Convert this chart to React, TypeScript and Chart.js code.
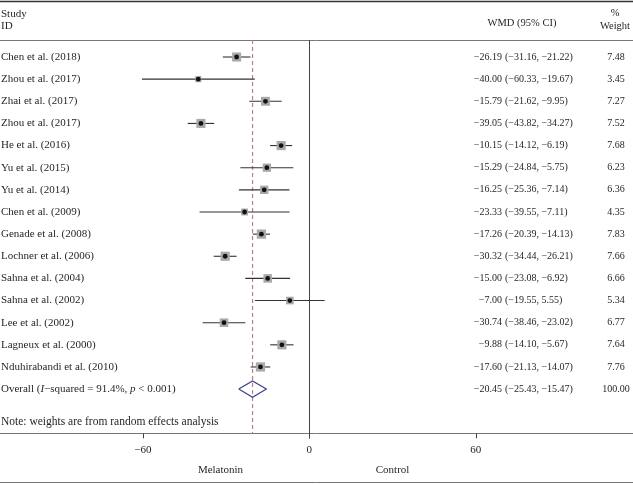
import React, { useEffect, useRef } from "react";
import { Chart, registerables } from "chart.js";

Chart.register(...registerables);

const studies = [
  "Chen et al. (2018)",
  "Zhou et al. (2017)",
  "Zhai et al. (2017)",
  "Zhou et al. (2017)",
  "He et al. (2016)",
  "Yu et al. (2015)",
  "Yu et al. (2014)",
  "Chen et al. (2009)",
  "Genade et al. (2008)",
  "Lochner et al. (2006)",
  "Sahna et al. (2004)",
  "Sahna et al. (2002)",
  "Lee et al. (2002)",
  "Lagneux et al. (2000)",
  "Nduhirabandi et al. (2010)",
];
const estimates = [-26.19, -40.0, -15.79, -39.05, -10.15, -15.29, -16.25, -23.33, -17.26, -30.32, -15.0, -7.0, -30.74, -9.88, -17.6];
const lowers = [-31.16, -60.33, -21.62, -43.82, -14.12, -24.84, -25.36, -39.55, -20.39, -34.44, -23.08, -19.55, -38.46, -14.1, -21.13];
const uppers = [-21.22, -19.67, -9.95, -34.27, -6.19, -5.75, -7.14, -7.11, -14.13, -26.21, -6.92, 5.55, -23.02, -5.67, -14.07];
const weights = [7.48, 3.45, 7.27, 7.52, 7.68, 6.23, 6.36, 4.35, 7.83, 7.66, 6.66, 5.34, 6.77, 7.64, 7.76];
const overallEst = -20.45;
const overallLo = -25.43;
const overallHi = -15.47;
const overallWeight = "100.00";
const xTicks = [-60, 0, 60];

const fmt = (v: number) => (v < 0 ? "\u2212" : "") + Math.abs(v).toFixed(2);

const SERIF = '"Liberation Serif", "DejaVu Serif", serif';
const TEXT = "#262626";

export default function App() {
  const ref = useRef<HTMLCanvasElement>(null);
  useEffect(() => {
    document.body.style.margin = "0";
    const canvas = ref.current!;
    const n = studies.length;
    const overallRow = n;
    const headerRow = -0.77;
    const axisRow = 17.0;
    const topRow = -2.53;
    const bottomRow = 19.2;
    const noteRow = 16.49;

    const ciSets: any[] = studies.map((_, i) => ({
      type: "line",
      data: [
        { x: lowers[i], y: i },
        { x: uppers[i], y: i },
      ],
      borderColor: "#333",
      borderWidth: 1.1,
      pointRadius: 0,
      order: 3,
    }));

    const framePlugin = {
      id: "forestFrame",
      beforeDatasetsDraw(chart: any) {
        const { ctx, scales } = chart;
        const xs = scales.x;
        const ys = scales.y;
        const W = chart.width;
        ctx.save();
        const hline = (row: number, color: string, w: number) => {
          const y = Math.round(ys.getPixelForValue(row)) + 0.5;
          ctx.strokeStyle = color;
          ctx.lineWidth = w;
          ctx.beginPath();
          ctx.moveTo(0, y);
          ctx.lineTo(W, y);
          ctx.stroke();
        };
        hline(topRow, "#333", 1.3);
        hline(headerRow, "#777", 1);
        hline(axisRow, "#777", 1);
        hline(bottomRow, "#777", 1);
        const x0 = Math.round(xs.getPixelForValue(0)) + 0.5;
        const yAxis = ys.getPixelForValue(axisRow);
        ctx.strokeStyle = "#444";
        ctx.lineWidth = 1;
        ctx.beginPath();
        ctx.moveTo(x0, ys.getPixelForValue(headerRow));
        ctx.lineTo(x0, yAxis + 5);
        ctx.stroke();
        xTicks.forEach((t) => {
          const x = Math.round(xs.getPixelForValue(t)) + 0.5;
          ctx.beginPath();
          ctx.moveTo(x, yAxis);
          ctx.lineTo(x, yAxis + 5);
          ctx.stroke();
        });
        const xo = xs.getPixelForValue(overallEst);
        ctx.strokeStyle = "#b9808c";
        ctx.setLineDash([4, 3]);
        ctx.lineWidth = 1.2;
        ctx.beginPath();
        ctx.moveTo(xo, ys.getPixelForValue(headerRow));
        ctx.lineTo(xo, yAxis);
        ctx.stroke();
        ctx.setLineDash([]);
        ctx.restore();
      },
      afterDatasetsDraw(chart: any) {
        const { ctx, scales } = chart;
        const xs = scales.x;
        const ys = scales.y;
        ctx.save();
        ctx.fillStyle = TEXT;
        ctx.textBaseline = "middle";
        ctx.font = `11px ${SERIF}`;
        ctx.textAlign = "left";
        ctx.fillText("Study", 1, ys.getPixelForValue(-1.94));
        ctx.fillText("ID", 1, ys.getPixelForValue(-1.4));
        ctx.textAlign = "center";
        ctx.font = `10.5px ${SERIF}`;
        ctx.fillText("WMD (95% CI)", 522, ys.getPixelForValue(-1.53));
        ctx.fillText("%", 615, ys.getPixelForValue(-1.99));
        ctx.fillText("Weight", 615, ys.getPixelForValue(-1.4));
        const rowText = (row: number, label: string, est: number, lo: number, hi: number, w: string) => {
          const y = ys.getPixelForValue(row);
          ctx.font = `11px ${SERIF}`;
          ctx.textAlign = "left";
          if (label) ctx.fillText(label, 1, y);
          ctx.font = `10px ${SERIF}`;
          ctx.textAlign = "right";
          ctx.fillText(fmt(est), 502, y);
          ctx.textAlign = "left";
          ctx.fillText(`(${fmt(lo)}, ${fmt(hi)})`, 505, y);
          ctx.textAlign = "center";
          ctx.fillText(w, 616, y);
        };
        studies.forEach((s, i) => rowText(i, s, estimates[i], lowers[i], uppers[i], weights[i].toFixed(2)));
        const yo = ys.getPixelForValue(overallRow);
        rowText(overallRow, "", overallEst, overallLo, overallHi, overallWeight);
        ctx.textAlign = "left";
        let cx = 1;
        const parts: [string, boolean][] = [
          ["Overall (", false],
          ["I", true],
          ["\u2212squared = 91.4%, ", false],
          ["p", true],
          [" < 0.001)", false],
        ];
        parts.forEach(([t, it]) => {
          ctx.font = `${it ? "italic " : ""}11px ${SERIF}`;
          ctx.fillText(t, cx, yo);
          cx += ctx.measureText(t).width;
        });
        ctx.font = `11.5px ${SERIF}`;
        ctx.fillText("Note: weights are from random effects analysis", 1, ys.getPixelForValue(noteRow));
        ctx.font = `11px ${SERIF}`;
        ctx.textAlign = "center";
        xTicks.forEach((t) => {
          ctx.fillText(t < 0 ? "\u2212" + Math.abs(t) : String(t), xs.getPixelForValue(t), ys.getPixelForValue(17.75));
        });
        ctx.fillText("Melatonin", xs.getPixelForValue(-32), ys.getPixelForValue(18.65));
        ctx.fillText("Control", xs.getPixelForValue(30), ys.getPixelForValue(18.65));
        ctx.restore();
      },
    };

    const chart = new Chart(canvas, {
      type: "scatter",
      data: {
        datasets: [
          ...ciSets,
          {
            type: "scatter",
            data: estimates.map((e, i) => ({ x: e, y: i })),
            pointStyle: "rect",
            pointRadius: weights.map((w) => 6.4 * Math.sqrt(w / 7.48)),
            backgroundColor: "#a9a9a9",
            borderWidth: 0,
            order: 2,
          },
          {
            type: "scatter",
            data: estimates.map((e, i) => ({ x: e, y: i })),
            pointStyle: "circle",
            pointRadius: 2.4,
            backgroundColor: "#111",
            borderWidth: 0,
            order: 1,
          },
          {
            type: "line",
            data: [
              { x: overallLo, y: overallRow },
              { x: overallEst, y: overallRow - 0.37 },
              { x: overallHi, y: overallRow },
              { x: overallEst, y: overallRow + 0.37 },
              { x: overallLo, y: overallRow },
            ],
            borderColor: "#3d3f8f",
            borderWidth: 1.2,
            pointRadius: 0,
            fill: false,
            tension: 0,
            order: 0,
          },
        ],
      },
      options: {
        animation: false,
        responsive: false,
        events: [],
        layout: { padding: 0, autoPadding: false },
        plugins: { legend: { display: false }, tooltip: { enabled: false } },
        scales: {
          x: { type: "linear", min: -111.46, max: 116.65, display: false },
          y: { type: "linear", min: -2.575, max: 19.286, reverse: true, display: false },
        },
      },
      plugins: [framePlugin],
    });
    return () => chart.destroy();
  }, []);
  return <canvas ref={ref} width={633} height={484} style={{ display: "block" }} />;
}
